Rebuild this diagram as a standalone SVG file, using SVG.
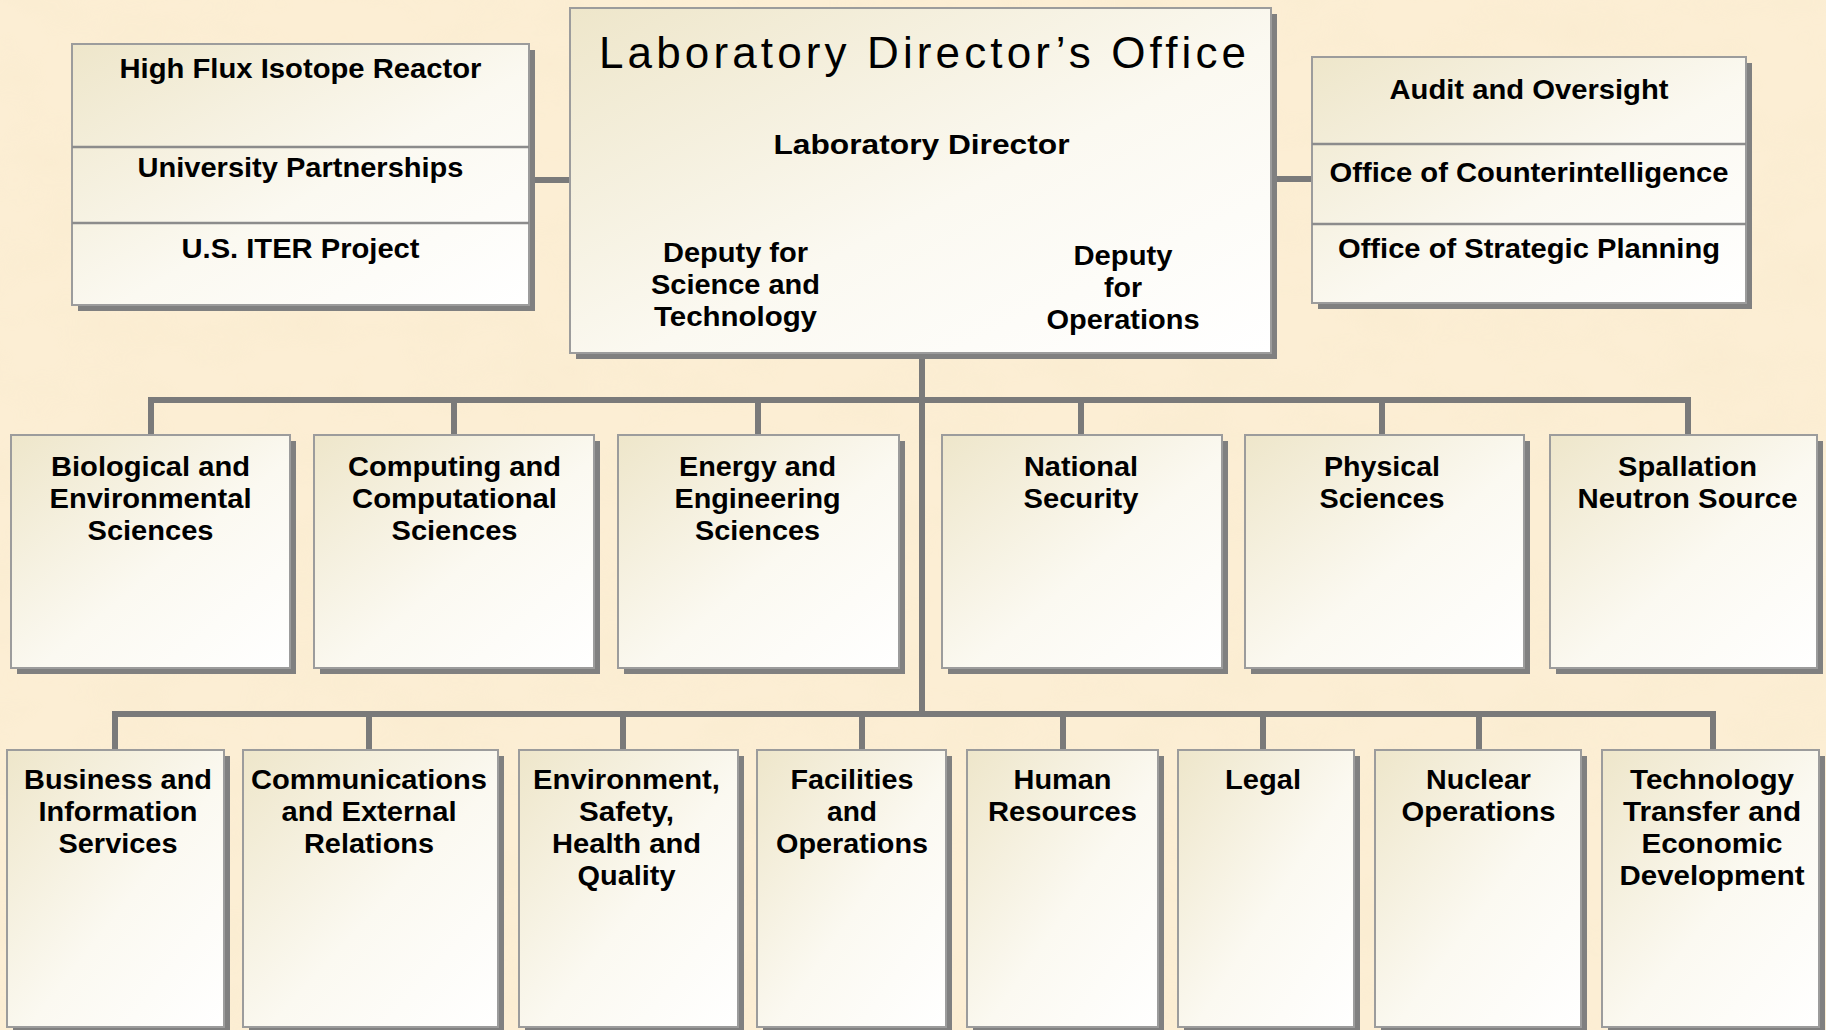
<svg xmlns="http://www.w3.org/2000/svg" width="1826" height="1030" viewBox="0 0 1826 1030">
<defs>
<linearGradient id="boxfill" x1="0" y1="0" x2="1" y2="1">
<stop offset="0" stop-color="#EEE6CA"/>
<stop offset="0.55" stop-color="#FBF9F1"/>
<stop offset="1" stop-color="#FFFFFF"/>
</linearGradient>
<filter id="parchment" x="0" y="0" width="100%" height="100%">
<feTurbulence type="fractalNoise" baseFrequency="0.012 0.02" numOctaves="3" seed="7" result="n"/>
<feColorMatrix in="n" type="matrix" values="0 0 0 0 0.93  0 0 0 0 0.82  0 0 0 0 0.6  0 0 0 1.4 -0.55" result="c"/>
<feComposite in="c" in2="SourceGraphic" operator="in"/>
</filter>
<style>
.bg{fill:#FCEED4}
.shadow{fill:#808080}
.box{fill:url(#boxfill);stroke:#9C9C9C;stroke-width:2}
.div{stroke:#8C8C8C;stroke-width:2.5;fill:none}
.conn{stroke:#7A7A7A;stroke-width:6;fill:none;stroke-linejoin:miter;stroke-linecap:square}
text{font-family:"Liberation Sans",Arial,sans-serif;fill:#000;text-anchor:middle}
.b{font-weight:bold;font-size:28px}
.title{font-size:44px;font-weight:normal;text-anchor:start}
</style>
</defs>
<rect class="bg" x="0" y="0" width="1826" height="1030"/>
<rect x="0" y="0" width="1826" height="1030" fill="#FCEED4" filter="url(#parchment)" opacity="0.45"/>

<g id="connectors">
<path class="conn" d="M529 180 H570"/>
<path class="conn" d="M1271 179 H1312"/>
<path class="conn" d="M922 353 V714"/>
<path class="conn" d="M151 435 V400 H1688 V435"/>
<path class="conn" d="M454 400 V435 M758 400 V435 M1081 400 V435 M1382 400 V435"/>
<path class="conn" d="M115 750 V714 H1713 V750"/>
<path class="conn" d="M369 714 V750 M623 714 V750 M862 714 V750 M1063 714 V750 M1263 714 V750 M1479 714 V750"/>
</g>

<g id="director-office">
<rect class="shadow" x="576" y="14" width="701" height="345"/>
<rect class="box" x="570" y="8" width="701" height="345"/>
<text class="title" x="599" y="68" textLength="647" lengthAdjust="spacing">Laboratory Director’s Office</text>
<text class="b" x="921.5" y="154" textLength="296" lengthAdjust="spacingAndGlyphs">Laboratory Director</text>
<text class="b" x="735.5" y="262" textLength="145" lengthAdjust="spacingAndGlyphs">Deputy for</text>
<text class="b" x="735.5" y="294" textLength="169" lengthAdjust="spacingAndGlyphs">Science and</text>
<text class="b" x="735.5" y="326" textLength="163" lengthAdjust="spacingAndGlyphs">Technology</text>
<text class="b" x="1123" y="265" textLength="99" lengthAdjust="spacingAndGlyphs">Deputy</text>
<text class="b" x="1123" y="297" textLength="38" lengthAdjust="spacingAndGlyphs">for</text>
<text class="b" x="1123" y="329" textLength="153" lengthAdjust="spacingAndGlyphs">Operations</text>
</g>

<g id="left-offices">
<rect class="shadow" x="78" y="50" width="457" height="261"/>
<rect class="box" x="72" y="44" width="457" height="261"/>
<path class="div" d="M72 147 H529 M72 223 H529"/>
<text class="b" x="300.5" y="78" textLength="362" lengthAdjust="spacingAndGlyphs">High Flux Isotope Reactor</text>
<text class="b" x="300.5" y="177" textLength="326" lengthAdjust="spacingAndGlyphs">University Partnerships</text>
<text class="b" x="300.5" y="258" textLength="238" lengthAdjust="spacingAndGlyphs">U.S. ITER Project</text>
</g>

<g id="right-offices">
<rect class="shadow" x="1318" y="63" width="434" height="246"/>
<rect class="box" x="1312" y="57" width="434" height="246"/>
<path class="div" d="M1312 144 H1746 M1312 224 H1746"/>
<text class="b" x="1529" y="99" textLength="279" lengthAdjust="spacingAndGlyphs">Audit and Oversight</text>
<text class="b" x="1529" y="182" textLength="399" lengthAdjust="spacingAndGlyphs">Office of Counterintelligence</text>
<text class="b" x="1529" y="258" textLength="382" lengthAdjust="spacingAndGlyphs">Office of Strategic Planning</text>
</g>

<g id="bio-env-sciences">
<rect class="shadow" x="17" y="441" width="279" height="233"/>
<rect class="box" x="11" y="435" width="279" height="233"/>
<text class="b" x="150.5" y="476" textLength="199" lengthAdjust="spacingAndGlyphs">Biological and</text>
<text class="b" x="150.5" y="508" textLength="202" lengthAdjust="spacingAndGlyphs">Environmental</text>
<text class="b" x="150.5" y="540" textLength="126" lengthAdjust="spacingAndGlyphs">Sciences</text>
</g>

<g id="computing-sciences">
<rect class="shadow" x="320" y="441" width="280" height="233"/>
<rect class="box" x="314" y="435" width="280" height="233"/>
<text class="b" x="454.5" y="476" textLength="213" lengthAdjust="spacingAndGlyphs">Computing and</text>
<text class="b" x="454.5" y="508" textLength="205" lengthAdjust="spacingAndGlyphs">Computational</text>
<text class="b" x="454.5" y="540" textLength="126" lengthAdjust="spacingAndGlyphs">Sciences</text>
</g>

<g id="energy-engineering">
<rect class="shadow" x="624" y="441" width="281" height="233"/>
<rect class="box" x="618" y="435" width="281" height="233"/>
<text class="b" x="757.5" y="476" textLength="157" lengthAdjust="spacingAndGlyphs">Energy and</text>
<text class="b" x="757.5" y="508" textLength="166" lengthAdjust="spacingAndGlyphs">Engineering</text>
<text class="b" x="757.5" y="540" textLength="125" lengthAdjust="spacingAndGlyphs">Sciences</text>
</g>

<g id="national-security">
<rect class="shadow" x="948" y="441" width="280" height="233"/>
<rect class="box" x="942" y="435" width="280" height="233"/>
<text class="b" x="1081" y="476" textLength="114" lengthAdjust="spacingAndGlyphs">National</text>
<text class="b" x="1081" y="508" textLength="115" lengthAdjust="spacingAndGlyphs">Security</text>
</g>

<g id="physical-sciences">
<rect class="shadow" x="1251" y="441" width="279" height="233"/>
<rect class="box" x="1245" y="435" width="279" height="233"/>
<text class="b" x="1382" y="476" textLength="116" lengthAdjust="spacingAndGlyphs">Physical</text>
<text class="b" x="1382" y="508" textLength="125" lengthAdjust="spacingAndGlyphs">Sciences</text>
</g>

<g id="spallation-neutron-source">
<rect class="shadow" x="1556" y="441" width="267" height="233"/>
<rect class="box" x="1550" y="435" width="267" height="233"/>
<text class="b" x="1687.5" y="476" textLength="139" lengthAdjust="spacingAndGlyphs">Spallation</text>
<text class="b" x="1687.5" y="508" textLength="220" lengthAdjust="spacingAndGlyphs">Neutron Source</text>
</g>

<g id="business-info">
<rect class="shadow" x="13" y="756" width="217" height="277"/>
<rect class="box" x="7" y="750" width="217" height="277"/>
<text class="b" x="118" y="789" textLength="188" lengthAdjust="spacingAndGlyphs">Business and</text>
<text class="b" x="118" y="821" textLength="159" lengthAdjust="spacingAndGlyphs">Information</text>
<text class="b" x="118" y="853" textLength="119" lengthAdjust="spacingAndGlyphs">Services</text>
</g>

<g id="communications">
<rect class="shadow" x="249" y="756" width="255" height="277"/>
<rect class="box" x="243" y="750" width="255" height="277"/>
<text class="b" x="369" y="789" textLength="236" lengthAdjust="spacingAndGlyphs">Communications</text>
<text class="b" x="369" y="821" textLength="175" lengthAdjust="spacingAndGlyphs">and External</text>
<text class="b" x="369" y="853" textLength="130" lengthAdjust="spacingAndGlyphs">Relations</text>
</g>

<g id="eshq">
<rect class="shadow" x="525" y="756" width="219" height="277"/>
<rect class="box" x="519" y="750" width="219" height="277"/>
<text class="b" x="626.5" y="789" textLength="187" lengthAdjust="spacingAndGlyphs">Environment,</text>
<text class="b" x="626.5" y="821" textLength="95" lengthAdjust="spacingAndGlyphs">Safety,</text>
<text class="b" x="626.5" y="853" textLength="149" lengthAdjust="spacingAndGlyphs">Health and</text>
<text class="b" x="626.5" y="885" textLength="98" lengthAdjust="spacingAndGlyphs">Quality</text>
</g>

<g id="facilities-operations">
<rect class="shadow" x="763" y="756" width="189" height="277"/>
<rect class="box" x="757" y="750" width="189" height="277"/>
<text class="b" x="852" y="789" textLength="123" lengthAdjust="spacingAndGlyphs">Facilities</text>
<text class="b" x="852" y="821" textLength="50" lengthAdjust="spacingAndGlyphs">and</text>
<text class="b" x="852" y="853" textLength="152" lengthAdjust="spacingAndGlyphs">Operations</text>
</g>

<g id="human-resources">
<rect class="shadow" x="973" y="756" width="191" height="277"/>
<rect class="box" x="967" y="750" width="191" height="277"/>
<text class="b" x="1062.5" y="789" textLength="98" lengthAdjust="spacingAndGlyphs">Human</text>
<text class="b" x="1062.5" y="821" textLength="149" lengthAdjust="spacingAndGlyphs">Resources</text>
</g>

<g id="legal">
<rect class="shadow" x="1184" y="756" width="176" height="277"/>
<rect class="box" x="1178" y="750" width="176" height="277"/>
<text class="b" x="1263" y="789" textLength="76" lengthAdjust="spacingAndGlyphs">Legal</text>
</g>

<g id="nuclear-operations">
<rect class="shadow" x="1381" y="756" width="206" height="277"/>
<rect class="box" x="1375" y="750" width="206" height="277"/>
<text class="b" x="1478.5" y="789" textLength="105" lengthAdjust="spacingAndGlyphs">Nuclear</text>
<text class="b" x="1478.5" y="821" textLength="154" lengthAdjust="spacingAndGlyphs">Operations</text>
</g>

<g id="technology-transfer">
<rect class="shadow" x="1608" y="756" width="217" height="277"/>
<rect class="box" x="1602" y="750" width="217" height="277"/>
<text class="b" x="1712" y="789" textLength="164" lengthAdjust="spacingAndGlyphs">Technology</text>
<text class="b" x="1712" y="821" textLength="178" lengthAdjust="spacingAndGlyphs">Transfer and</text>
<text class="b" x="1712" y="853" textLength="141" lengthAdjust="spacingAndGlyphs">Economic</text>
<text class="b" x="1712" y="885" textLength="185" lengthAdjust="spacingAndGlyphs">Development</text>
</g>
</svg>
